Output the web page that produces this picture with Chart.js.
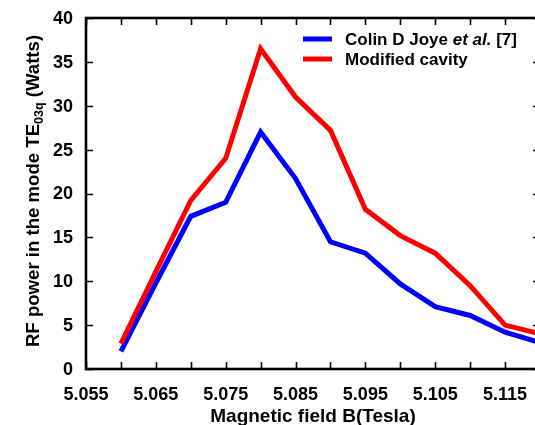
<!DOCTYPE html>
<html>
<head>
<meta charset="utf-8">
<script src="https://cdn.jsdelivr.net/npm/chart.js@4/dist/chart.umd.min.js"></script>
<style>
  html, body { margin: 0; padding: 0; background: #fff; overflow: hidden; }
  #wrap { width: 535px; height: 425px; overflow: hidden; position: relative; }
  canvas { display: block; }
</style>
</head>
<body>
<div id="wrap"><canvas id="c" width="545" height="425"></canvas></div>
<script>
// Data
const fieldB = [5.060, 5.065, 5.070, 5.075, 5.080, 5.085, 5.090, 5.095, 5.100, 5.105, 5.110, 5.115, 5.120];
const joyePower = [2.0, 9.8, 17.4, 19.0, 27.0, 21.7, 14.5, 13.2, 9.7, 7.1, 6.1, 4.2, 3.0];
const modifiedPower = [2.9, 11.1, 19.2, 24.0, 36.5, 31.0, 27.2, 18.2, 15.2, 13.2, 9.5, 5.0, 4.0];
const seriesNames = ["Colin D Joye et al. [7]", "Modified cavity"];
const xTickLabels = ["5.055", "5.065", "5.075", "5.085", "5.095", "5.105", "5.115"];
const yTickLabels = ["0", "5", "10", "15", "20", "25", "30", "35", "40"];
const xTitle = "Magnetic field B(Tesla)";
const yTitleParts = ["RF power in the mode TE", "03q", " (Watts)"];

const FONT = "'Liberation Sans', Arial, Helvetica, sans-serif";
const toPts = (xs, ys) => xs.map((x, i) => ({ x: x, y: ys[i] }));

const framePlugin = {
  id: 'frame',
  afterDraw(chart) {
    const ctx = chart.ctx;
    const a = chart.chartArea;
    const xs = chart.scales.x, ys = chart.scales.y;
    ctx.save();
    // inward tick marks
    ctx.strokeStyle = '#000';
    ctx.lineWidth = 1.6;
    const tl = 7;
    ctx.beginPath();
    xs.ticks.forEach(t => {
      const px = Math.round(xs.getPixelForValue(t.value)) + 0.5;
      ctx.moveTo(px, a.bottom); ctx.lineTo(px, a.bottom - tl);
      ctx.moveTo(px, a.top); ctx.lineTo(px, a.top + tl);
    });
    ys.ticks.forEach(t => {
      const py = Math.round(ys.getPixelForValue(t.value)) + 0.5;
      ctx.moveTo(a.left, py); ctx.lineTo(a.left + tl, py);
      ctx.moveTo(a.right, py); ctx.lineTo(a.right - tl, py);
    });
    ctx.stroke();
    // frame
    ctx.lineWidth = 2.6;
    ctx.strokeRect(a.left, a.top, a.right - a.left, a.bottom - a.top);

    // tick labels
    ctx.fillStyle = '#000';
    ctx.font = 'bold 18px ' + FONT;
    ctx.textAlign = 'center';
    ctx.textBaseline = 'alphabetic';
    xTickLabels.forEach(l => {
      ctx.fillText(l, xs.getPixelForValue(parseFloat(l)), a.bottom + 31);
    });
    ctx.textAlign = 'right';
    ctx.textBaseline = 'middle';
    yTickLabels.forEach(l => {
      ctx.fillText(l, a.left - 13, ys.getPixelForValue(parseFloat(l)) + 1);
    });

    // x title
    ctx.font = 'bold 19px ' + FONT;
    ctx.textAlign = 'center';
    ctx.textBaseline = 'alphabetic';
    ctx.fillText(xTitle, (a.left + a.right) / 2, 422);

    // y title with subscript
    const mainFont = 'bold 18.6px ' + FONT;
    const subFont = 'bold 12.5px ' + FONT;
    ctx.font = mainFont;
    const w1 = ctx.measureText(yTitleParts[0]).width;
    const w3 = ctx.measureText(yTitleParts[2]).width;
    ctx.font = subFont;
    const w2 = ctx.measureText(yTitleParts[1]).width;
    const total = w1 + w2 + w3;
    ctx.translate(39, 191);
    ctx.rotate(-Math.PI / 2);
    ctx.textAlign = 'left';
    let x0 = -total / 2;
    ctx.font = mainFont;
    ctx.fillText(yTitleParts[0], x0, 0);
    x0 += w1;
    ctx.font = subFont;
    ctx.fillText(yTitleParts[1], x0, 3.5);
    x0 += w2;
    ctx.font = mainFont;
    ctx.fillText(yTitleParts[2], x0, 0);
    ctx.restore();

    // legend
    ctx.save();
    const colors = ['#0000ff', '#ff0000'];
    const rows = [39, 59];
    ctx.lineWidth = 5;
    rows.forEach((yy, i) => {
      ctx.strokeStyle = colors[i];
      ctx.beginPath();
      ctx.moveTo(303, yy); ctx.lineTo(332, yy);
      ctx.stroke();
    });
    ctx.fillStyle = '#000';
    ctx.textBaseline = 'middle';
    ctx.textAlign = 'left';
    const name0 = seriesNames[0];
    const m = name0.match(/^(.*?)(et al\.)(.*)$/);
    let lx = 345;
    const segs = m ? [[m[1], 'bold 17px '], [m[2], 'italic bold 17px '], [m[3], 'bold 17px ']] : [[name0, 'bold 17px ']];
    segs.forEach(s => {
      ctx.font = s[1] + FONT;
      ctx.fillText(s[0], lx, rows[0] + 1);
      lx += ctx.measureText(s[0]).width;
    });
    ctx.font = 'bold 17px ' + FONT;
    ctx.fillText(seriesNames[1], 345, rows[1] + 1);
    ctx.restore();
  }
};

new Chart(document.getElementById('c'), {
  type: 'line',
  data: {
    datasets: [
      { label: seriesNames[0], data: toPts(fieldB, joyePower), borderColor: '#0000ff', backgroundColor: '#0000ff', borderWidth: 5, pointRadius: 0, tension: 0, order: 1, borderJoinStyle: 'miter' },
      { label: seriesNames[1], data: toPts(fieldB, modifiedPower), borderColor: '#ff0000', backgroundColor: '#ff0000', borderWidth: 5, pointRadius: 0, tension: 0, order: 0, borderJoinStyle: 'miter' }
    ]
  },
  options: {
    responsive: false,
    animation: false,
    devicePixelRatio: 1,
    layout: { padding: { top: 18, right: 5, left: 0, bottom: 0 } },
    plugins: { legend: { display: false }, tooltip: { enabled: false } },
    scales: {
      x: {
        type: 'linear',
        min: 5.055, max: 5.12,
        grid: { display: false },
        border: { display: false },
        afterFit: s => { s.height = 56; },
        ticks: { stepSize: 0.005, display: false, autoSkip: false }
      },
      y: {
        min: 0, max: 40,
        grid: { display: false },
        border: { display: false },
        afterFit: s => { s.width = 86; },
        ticks: { stepSize: 5, display: false }
      }
    }
  },
  plugins: [framePlugin]
});
</script>
</body>
</html>
